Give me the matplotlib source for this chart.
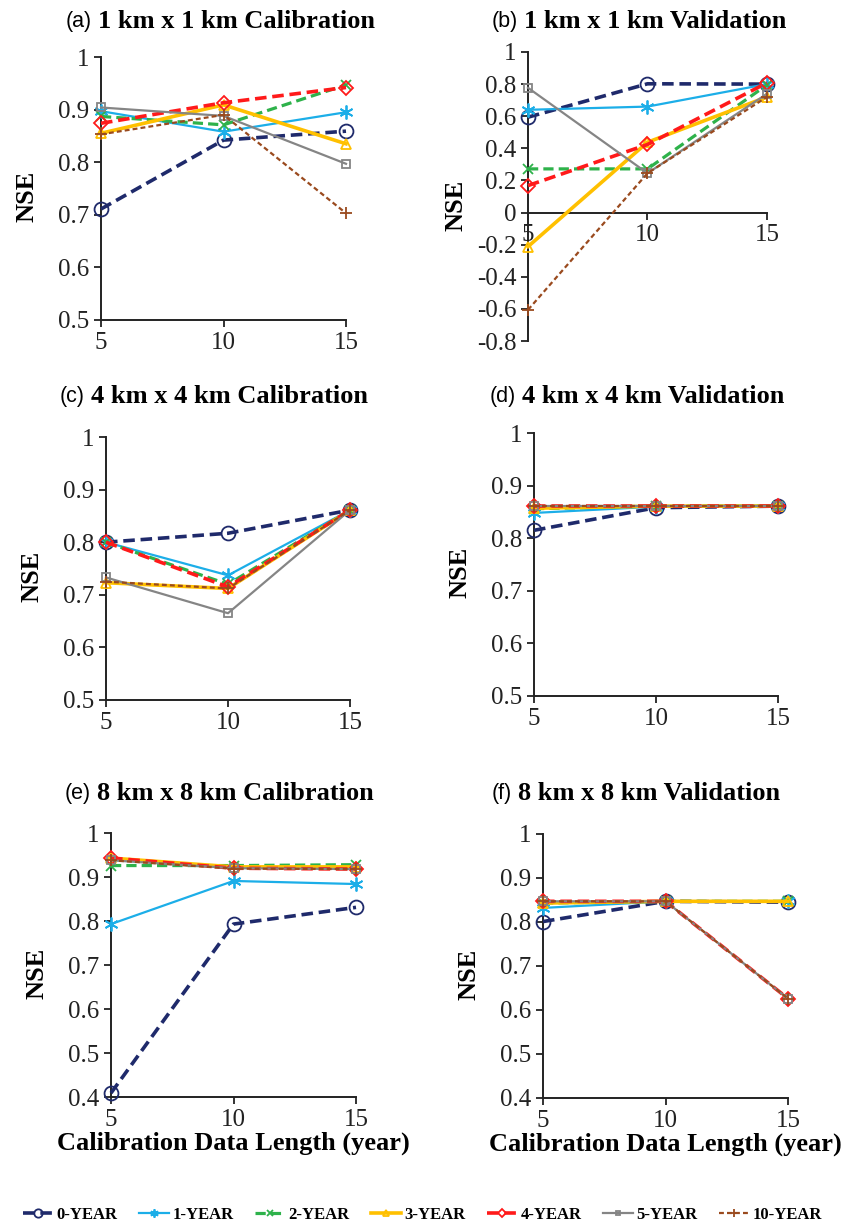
import matplotlib
matplotlib.use("Agg")
import matplotlib.pyplot as plt
from matplotlib.font_manager import FontProperties
from matplotlib.ticker import FuncFormatter

# data
years = [5, 10, 15]
series_names = ["0-YEAR", "1-YEAR", "2-YEAR", "3-YEAR", "4-YEAR", "5-YEAR", "10-YEAR"]

nse_1km_cal = [
    [0.711, 0.842, 0.859],
    [0.897, 0.858, 0.895],
    [0.887, 0.871, 0.947],
    [0.855, 0.909, 0.835],
    [0.874, 0.913, 0.942],
    [0.904, 0.888, 0.797],
    [0.853, 0.890, 0.703],
]
nse_1km_val = [
    [0.594, 0.802, 0.800],
    [0.640, 0.660, 0.800],
    [0.272, 0.272, 0.795],
    [-0.212, 0.438, 0.720],
    [0.168, 0.424, 0.808],
    [0.777, 0.245, 0.740],
    [-0.606, 0.245, 0.720],
]
nse_4km_cal = [
    [0.800, 0.817, 0.861],
    [0.800, 0.737, 0.861],
    [0.800, 0.720, 0.861],
    [0.723, 0.712, 0.861],
    [0.800, 0.715, 0.861],
    [0.733, 0.665, 0.861],
    [0.725, 0.712, 0.861],
]
nse_4km_val = [
    [0.815, 0.858, 0.861],
    [0.848, 0.860, 0.861],
    [0.856, 0.861, 0.861],
    [0.857, 0.861, 0.861],
    [0.861, 0.861, 0.861],
    [0.861, 0.861, 0.861],
    [0.861, 0.861, 0.861],
]
nse_8km_cal = [
    [0.409, 0.793, 0.831],
    [0.793, 0.891, 0.884],
    [0.926, 0.926, 0.928],
    [0.943, 0.923, 0.923],
    [0.943, 0.920, 0.918],
    [0.938, 0.920, 0.918],
    [0.938, 0.919, 0.918],
]
nse_8km_val = [
    [0.801, 0.847, 0.845],
    [0.832, 0.847, 0.847],
    [0.843, 0.847, 0.847],
    [0.843, 0.847, 0.847],
    [0.847, 0.847, 0.626],
    [0.847, 0.847, 0.626],
    [0.847, 0.847, 0.626],
]

panel_tags = ["(a)", "(b)", "(c)", "(d)", "(e)", "(f)"]
panel_titles = [
    "1 km x 1 km Calibration",
    "1 km x 1 km Validation",
    "4 km x 4 km Calibration",
    "4 km x 4 km Validation",
    "8 km x 8 km Calibration",
    "8 km x 8 km Validation",
]
panel_data = [nse_1km_cal, nse_1km_val, nse_4km_cal, nse_4km_val, nse_8km_cal, nse_8km_val]
panel_yticks = [
    [0.5, 0.6, 0.7, 0.8, 0.9, 1.0],
    [-0.8, -0.6, -0.4, -0.2, 0.0, 0.2, 0.4, 0.6, 0.8, 1.0],
    [0.5, 0.6, 0.7, 0.8, 0.9, 1.0],
    [0.5, 0.6, 0.7, 0.8, 0.9, 1.0],
    [0.4, 0.5, 0.6, 0.7, 0.8, 0.9, 1.0],
    [0.4, 0.5, 0.6, 0.7, 0.8, 0.9, 1.0],
]

# styles per series: color, linestyle, linewidth, marker, markersize
styles = [
    ("#1F2A6B", (0, (3.2, 1.6)), 2.6, "o", 10),
    ("#1CAEE8", "-", 1.6, (6, 2, 0), 10),
    ("#2EB24B", (0, (3.2, 1.6)), 2.3, "x", 7),
    ("#FFC000", "-", 2.6, "^", 7),
    ("#FF1A1A", (0, (3.2, 1.6)), 2.6, "D", 7),
    ("#858585", "-", 1.6, "s", 6),
    ("#9A4A1E", (0, (2.2, 1.4)), 1.6, "+", 9),
]

# layout in pixels: left, right(x=15), top(y max), bottom(y min)
W, H = 845, 1226
boxes = [
    (101, 346, 57, 320),
    (528, 767, 52, 341),
    (106, 350, 437, 700),
    (534, 778, 433, 696),
    (111, 356, 833, 1097),
    (543, 788, 834, 1098),
]
title_pos = [(66, 22), (492, 22), (60, 397), (490, 397), (65, 793), (492, 793)]

serif = "Liberation Serif"
fig = plt.figure(figsize=(8.45, 12.26), dpi=100)

handles = []
for i in range(6):
    left, right, top, bottom = boxes[i]
    ax = fig.add_axes([left / W, 1 - bottom / H, (right - left) / W, (bottom - top) / H])
    data = panel_data[i]
    lines = []
    for j, vals in enumerate(data):
        c, ls, lw, mk, ms = styles[j]
        (ln,) = ax.plot(years, vals, color=c, linestyle=ls, linewidth=lw, marker=mk,
                        markersize=ms, markerfacecolor="none", markeredgecolor=c,
                        markeredgewidth=1.3, clip_on=False, zorder=3 + j)
        lines.append(ln)
    if i == 0:
        handles = lines

    yt = panel_yticks[i]
    ax.set_xlim(5, 15)
    ax.set_ylim(yt[0], yt[-1])
    ax.set_xticks(years)
    ax.set_yticks(yt)
    ax.yaxis.set_major_formatter(FuncFormatter(lambda v, p: f"{v:g}"))
    for s in ["top", "right"]:
        ax.spines[s].set_visible(False)
    for s in ["left", "bottom"]:
        ax.spines[s].set_linewidth(1.4)
        ax.spines[s].set_color("#222222")
    if i == 1:
        ax.spines["bottom"].set_position(("data", 0))
    ax.tick_params(direction="out", length=5, width=1.3, colors="#222222", labelsize=18)
    for lab in ax.get_xticklabels() + ax.get_yticklabels():
        lab.set_fontfamily(serif)
        lab.set_color("#222222")

    ax.set_ylabel("NSE", fontsize=19, fontweight="bold", family=serif)
    ax.yaxis.set_label_coords(-0.255, 0.47)
    if i >= 4:
        ax.set_xlabel("Calibration Data Length (year)", fontsize=19, fontweight="bold", family=serif)
        ax.xaxis.set_label_coords(0.5, -0.13)

    tx, ty = title_pos[i]
    t = fig.text(tx / W, 1 - ty / H, panel_tags[i], family="Liberation Sans",
                 fontsize=15.5, ha="left", va="center")
    ax.annotate(panel_titles[i], xy=(1, 0.5), xycoords=t, xytext=(4, 0),
                textcoords="offset points", ha="left", va="center", fontsize=19,
                fontweight="bold", family=serif, annotation_clip=False)

fig.legend(handles, series_names, loc="center", bbox_to_anchor=(0.5, 1 - 1215 / H), ncol=7,
           frameon=False, prop=FontProperties(family=serif, weight="bold", size=12),
           handlelength=1.8, handletextpad=0.2, columnspacing=1.3, markerscale=0.6)

fig.savefig("out.png", dpi=100)
